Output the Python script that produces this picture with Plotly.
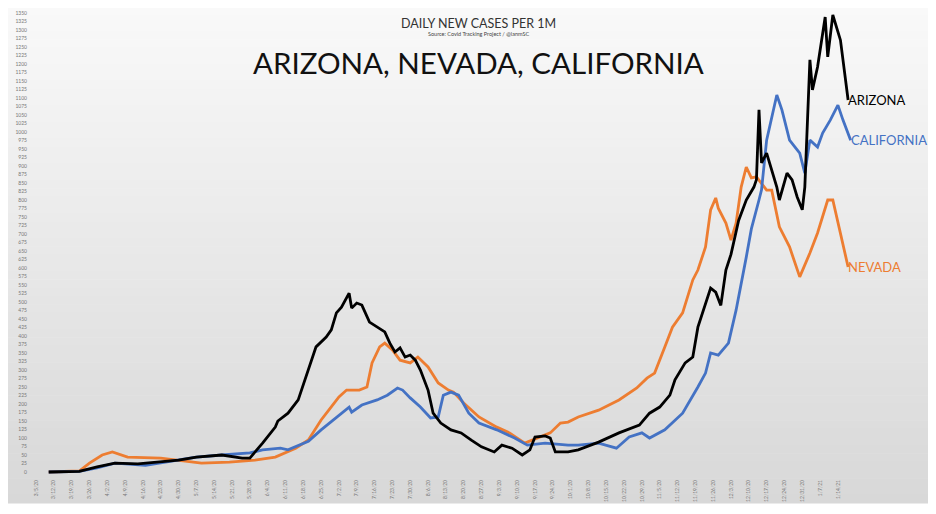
import plotly.graph_objects as go
import pandas as pd

# ---------------- data ----------------
az_dates = ["2020-03-10","2020-03-22","2020-03-29","2020-04-05","2020-04-14","2020-04-23","2020-04-30",
            "2020-05-07","2020-05-17","2020-05-25","2020-05-28","2020-06-02","2020-06-04","2020-06-07",
            "2020-06-08","2020-06-12","2020-06-16","2020-06-19","2020-06-23","2020-06-27","2020-06-29",
            "2020-07-01","2020-07-03","2020-07-06","2020-07-07","2020-07-09","2020-07-11","2020-07-14",
            "2020-07-17","2020-07-20","2020-07-22","2020-07-24","2020-07-26","2020-07-28","2020-07-30",
            "2020-08-01","2020-08-03","2020-08-06","2020-08-08","2020-08-11","2020-08-15","2020-08-19",
            "2020-08-23","2020-08-27","2020-09-01","2020-09-04","2020-09-08","2020-09-12","2020-09-15",
            "2020-09-17","2020-09-21","2020-09-23","2020-09-25","2020-09-30","2020-10-04","2020-10-12",
            "2020-10-20","2020-10-28","2020-11-01","2020-11-05","2020-11-09","2020-11-11","2020-11-15",
            "2020-11-18","2020-11-20","2020-11-23","2020-11-25","2020-11-27","2020-11-29","2020-12-01",
            "2020-12-03","2020-12-06","2020-12-09","2020-12-12","2020-12-13","2020-12-14","2020-12-15",
            "2020-12-17","2020-12-21","2020-12-22","2020-12-25","2020-12-27","2020-12-29","2020-12-31",
            "2021-01-01","2021-01-03","2021-01-04","2021-01-06","2021-01-09","2021-01-10","2021-01-12",
            "2021-01-15","2021-01-18"]
az_values = [0, 2, 15, 26, 24, 30, 35,
             44, 50, 41, 41, 85, 103, 132,
             150, 173, 212, 280, 368, 397, 418,
             468, 485, 526, 482, 497, 491, 441,
             426, 412, 379, 353, 365, 338, 344,
             329, 300, 241, 173, 144, 124, 115,
             94, 74, 59, 79, 70, 50, 65,
             103, 106, 100, 59, 59, 65, 88,
             115, 138, 173, 191, 226, 271, 321,
             338, 426, 497, 541, 529, 490, 594,
             640, 740, 800, 838, 860, 1065, 909,
             938, 838, 800, 879, 859, 809, 771,
             838, 1212, 1124, 1191, 1338, 1221, 1344,
             1270, 1094]

nv_dates = ["2020-03-10","2020-03-22","2020-03-26","2020-03-31","2020-04-04","2020-04-10","2020-04-23",
            "2020-04-30","2020-05-09","2020-05-20","2020-05-30","2020-06-07","2020-06-15","2020-06-20",
            "2020-06-25","2020-06-28","2020-07-02","2020-07-05","2020-07-10","2020-07-13","2020-07-15",
            "2020-07-18","2020-07-20","2020-07-23","2020-07-26","2020-07-30","2020-08-02","2020-08-06",
            "2020-08-10","2020-08-14","2020-08-16","2020-08-20","2020-08-26","2020-09-02","2020-09-07",
            "2020-09-13","2020-09-18","2020-09-23","2020-09-27","2020-09-30","2020-10-04","2020-10-12",
            "2020-10-20","2020-10-27","2020-10-31","2020-11-03","2020-11-07","2020-11-10","2020-11-14",
            "2020-11-18","2020-11-20","2020-11-23","2020-11-25","2020-11-27","2020-11-28","2020-12-01",
            "2020-12-03","2020-12-05","2020-12-07","2020-12-09","2020-12-11","2020-12-13","2020-12-17",
            "2020-12-19","2020-12-22","2020-12-26","2020-12-30","2021-01-03","2021-01-06","2021-01-10",
            "2021-01-12","2021-01-15","2021-01-18"]
nv_values = [0, 3, 26, 50, 59, 44, 41,
             35, 26, 29, 35, 44, 70, 94,
             153, 182, 221, 241, 241, 250, 321,
             368, 379, 359, 329, 321, 338, 309,
             262, 241, 235, 203, 162, 132, 115,
             85, 100, 115, 144, 147, 162, 182,
             212, 247, 276, 291, 368, 426, 468,
             565, 594, 662, 771, 806, 776, 732,
             682, 732, 838, 897, 865, 868, 829,
             829, 721, 662, 574, 644, 703, 800,
             800, 703, 603]

ca_dates = ["2020-03-10","2020-03-22","2020-03-29","2020-04-05","2020-04-17","2020-04-30","2020-05-07",
            "2020-05-17","2020-05-28","2020-06-02","2020-06-09","2020-06-12","2020-06-20","2020-06-25",
            "2020-07-01","2020-07-06","2020-07-07","2020-07-11","2020-07-17","2020-07-21","2020-07-25",
            "2020-07-27","2020-07-30","2020-08-03","2020-08-07","2020-08-10","2020-08-12","2020-08-15",
            "2020-08-18","2020-08-22","2020-08-26","2020-09-02","2020-09-09","2020-09-14","2020-09-21",
            "2020-09-30","2020-10-04","2020-10-12","2020-10-19","2020-10-24","2020-10-29","2020-11-01",
            "2020-11-07","2020-11-14","2020-11-20","2020-11-23","2020-11-25","2020-11-28","2020-12-02",
            "2020-12-05","2020-12-09","2020-12-11","2020-12-14","2020-12-15","2020-12-17","2020-12-19",
            "2020-12-21","2020-12-23","2020-12-26","2020-12-30","2021-01-01","2021-01-03","2021-01-06",
            "2021-01-08","2021-01-11","2021-01-14","2021-01-16","2021-01-19"]
ca_values = [0, 2, 12, 26, 20, 35, 44,
             50, 56, 65, 70, 65, 90, 124,
             162, 191, 176, 197, 212, 226, 247,
             241, 218, 191, 159, 162, 226, 235,
             226, 173, 144, 124, 100, 79, 85,
             79, 79, 85, 70, 103, 115, 100,
             124, 173, 250, 291, 350, 344, 379,
             476, 632, 715, 800, 830, 976, 1044,
             1109, 1065, 976, 938, 879, 976, 956,
             997, 1035, 1079, 1035, 976]

series_colors = ["#000000", "#4472C4", "#ED7D31"]

# weekly category ticks shown on the x axis: 3/5/20 ... 1/14/21
x_tick_dates = [d.strftime("%Y-%m-%d") for d in pd.date_range("2020-03-05", "2021-01-14", freq="7D")]
x_tick_labels = ["%d/%d/%s" % (int(s[5:7]), int(s[8:10]), s[2:4]) for s in x_tick_dates]

title_main = "ARIZONA, NEVADA, CALIFORNIA"
title_top = "DAILY NEW CASES PER 1M"
title_source = "Source: Covid Tracking Project / @ianmSC"

# ---------------- figure ----------------
# The page has an 8px body margin, so the figure's origin sits at page (8, 8).
OFF = 8
W, H = 936, 514
P_L, P_R, P_T, P_B = 28, 925, 10, 478   # plot area in page pixels
ML = P_L - OFF
MT = P_T - OFF
MR = W - (P_R - OFF)
MB = H - (P_B - OFF)
FONT = "Lato, 'Open Sans', sans-serif"
X_RANGE = ["2020-03-01 20:38", "2021-02-17 05:00"]

fig = go.Figure()

# ARIZONA sits on the overlaid twin axis x2 (identical range) so it is drawn on top
for name, dates, vals, col, xa in [
    ("NEVADA", nv_dates, nv_values, series_colors[2], "x"),
    ("CALIFORNIA", ca_dates, ca_values, series_colors[1], "x"),
    ("ARIZONA", az_dates, az_values, series_colors[0], "x2"),
]:
    fig.add_trace(go.Scatter(x=dates, y=vals, mode="lines", name=name, xaxis=xa, yaxis="y",
                             line=dict(color=col, width=2.8), showlegend=False,
                             hoverinfo="x+y+name"))

label_info = [("ARIZONA", az_dates[-1], az_values[-1], series_colors[0]),
              ("CALIFORNIA", ca_dates[-1], ca_values[-1], series_colors[1]),
              ("NEVADA", nv_dates[-1], nv_values[-1], series_colors[2])]
for txt, xd, yv, col in label_info:
    fig.add_annotation(x=xd, y=yv, xref="x", yref="y", text=txt, showarrow=False, xanchor="left",
                       yanchor="middle", xshift=-2, yshift=0,
                       font=dict(family=FONT, size=13, color=col))

pw = P_R - P_L
ph = P_B - P_T
def px_x(px):
    return (px - P_L) / pw
def px_y(py):
    return (P_B - py) / ph

fig.add_annotation(xref="paper", yref="paper", x=px_x(478), y=px_y(23), text=title_top,
                   showarrow=False, xanchor="center", yanchor="middle",
                   font=dict(family=FONT, size=12.5, color="#333333"))
fig.add_annotation(xref="paper", yref="paper", x=px_x(478), y=px_y(33.5), text=title_source,
                   showarrow=False, xanchor="center", yanchor="middle",
                   font=dict(family=FONT, size=5.5, color="#444444"))
fig.add_annotation(xref="paper", yref="paper", x=px_x(478), y=px_y(62), text=title_main,
                   showarrow=False, xanchor="center", yanchor="middle",
                   font=dict(family=FONT, size=29.5, color="#111111"))

# gradient background panel (page pixels)
N = 60
top_px, bot_px, left_px, right_px = 6, 503, 6, 930
c0, c1 = (249, 249, 249), (216, 216, 216)
shapes = []
for i in range(N):
    y0 = top_px + (bot_px - top_px) * i / N
    y1 = top_px + (bot_px - top_px) * (i + 1) / N + 0.5
    t = i / (N - 1)
    c = tuple(round(c0[k] + (c1[k] - c0[k]) * t) for k in range(3))
    shapes.append(dict(type="rect", xref="paper", yref="paper", layer="below",
                       x0=px_x(left_px), x1=px_x(right_px), y0=px_y(y1), y1=px_y(y0),
                       line=dict(width=0), fillcolor="rgb(%d,%d,%d)" % c))

# weekly ticks split over two overlaid, identical date axes so that none of
# the closely spaced vertical labels is auto-hidden
xaxis_common = dict(type="date", range=X_RANGE, tickmode="array",
                    tickangle=-90, tickfont=dict(size=5, color="#777777"),
                    showgrid=False, zeroline=False, showline=False, ticks="",
                    automargin=False, fixedrange=True)

fig.update_layout(
    width=W, height=H,
    margin=dict(l=ML, r=MR, t=MT, b=MB, pad=0, autoexpand=False),
    paper_bgcolor="white", plot_bgcolor="rgba(0,0,0,0)",
    shapes=shapes,
    font=dict(family=FONT),
    xaxis=dict(xaxis_common, tickvals=x_tick_dates[0::2], ticktext=x_tick_labels[0::2]),
    xaxis2=dict(xaxis_common, tickvals=x_tick_dates[1::2], ticktext=x_tick_labels[1::2],
                overlaying="x", side="bottom", anchor="y"),
    yaxis=dict(range=[-17.6, 1358.8], tick0=0, dtick=25,
               tickfont=dict(size=5, color="#777777"),
               showgrid=False, zeroline=False, showline=False, ticks="",
               automargin=False, fixedrange=True),
)

fig.write_html("out.html")
